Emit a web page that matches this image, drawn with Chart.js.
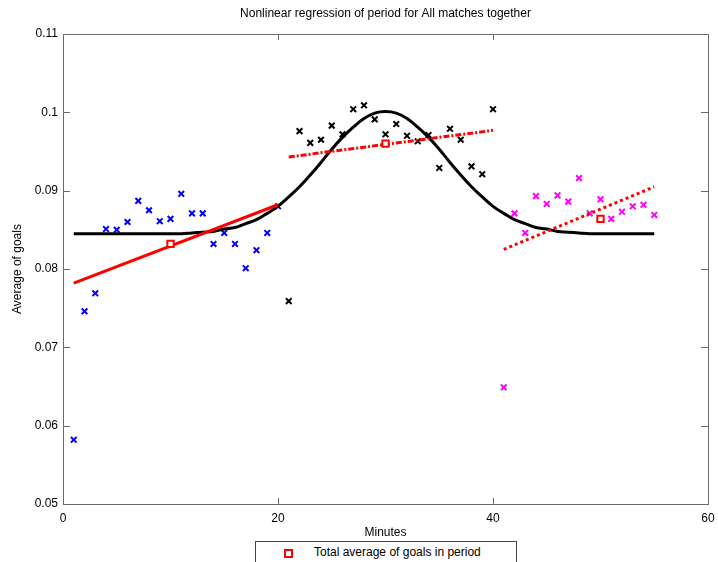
<!DOCTYPE html>
<html>
<head>
<meta charset="utf-8">
<script src="https://cdn.jsdelivr.net/npm/chart.js@4.4.0/dist/chart.umd.min.js"></script>
<style>
  body { margin: 0; background: #fff; font-family: "Liberation Sans", Arial, sans-serif; }
  #wrap { position: relative; width: 718px; height: 562px; overflow: hidden; }
  #legend {
    position: absolute; left: 255px; top: 541px; width: 260px; height: 40px;
    border: 1px solid #444; background: #fff; font-size: 12px; color: #000;
  }
  #legend .mk {
    position: absolute; left: 28px; top: 7px; width: 5px; height: 5px;
    border: 2px solid #ff0000; background: #fff;
  }
  #legend .txt { position: absolute; left: 58px; top: 3px; white-space: nowrap; }
</style>
</head>
<body>
<div id="wrap">
  <canvas id="chart" width="718" height="562"></canvas>
  <div id="legend"><span class="mk"></span><span class="txt">Total average of goals in period</span></div>
</div>
<script>
/** ================================
 *  Datos
 =================================*/
const minutesA = [1,2,3,4,5,6,7,8,9,10,11,12,13,14,15,16,17,18,19,20];
const goalsA = [0.0582,0.0746,0.0769,0.0851,0.0850,0.0860,0.0887,0.0875,0.0861,0.0864,
                0.0896,0.0871,0.0871,0.0832,0.0846,0.0832,0.0801,0.0824,0.0846,0.0880];

const minutesB = [21,22,23,24,25,26,27,28,29,30,31,32,33,34,35,36,37,38,39,40];
const goalsB = [0.0759,0.0976,0.0961,0.0965,0.0983,0.0972,0.1004,0.1009,0.0991,0.0972,
                0.0985,0.0970,0.0963,0.0971,0.0929,0.0979,0.0965,0.0931,0.0921,0.1004];

const minutesC = [41,42,43,44,45,46,47,48,49,50,51,52,53,54,55];
const goalsC = [0.0649,0.0871,0.0846,0.0893,0.0883,0.0894,0.0886,0.0916,0.0871,0.0889,
                0.0864,0.0873,0.0880,0.0882,0.0869];

const periodMinutes = [10, 30, 50];
const periodAvg = [0.0832, 0.0960, 0.0864];

const fitAMinutes = [1, 20];
const fitAGoals = [0.0782, 0.0882];
const fitBMinutes = [21, 40];
const fitBGoals = [0.0943, 0.0977];
const fitCMinutes = [41, 55];
const fitCGoals = [0.0825, 0.0905];

const curveMinutes = [1,2,3,4,5,6,7,8,9,10,11,12,13,14,15,16,17,18,19,20,
                      21,22,23,24,25,26,27,28,29,30,31,32,33,34,35,36,37,38,39,40,
                      41,42,43,44,45,46,47,48,49,50,51,52,53,54,55];
const curveGoals = [0.0845,0.0845,0.0845,0.0845,0.0845,0.0845,0.0845,0.0845,0.0845,0.0845,
                    0.0845,0.0846,0.0847,0.0848,0.0851,0.0853,0.0858,0.0863,0.0871,0.0880,
                    0.0892,0.0905,0.0920,0.0936,0.0953,0.0968,0.0981,0.0992,0.0999,0.1001,
                    0.0999,0.0992,0.0981,0.0968,0.0953,0.0936,0.0920,0.0905,0.0892,0.0880,
                    0.0871,0.0863,0.0858,0.0853,0.0851,0.0848,0.0847,0.0846,0.0845,0.0845,
                    0.0845,0.0845,0.0845,0.0845,0.0845];

const xTicks = [0, 20, 40, 60];
const xTickLabels = ["0", "20", "40", "60"];
const yTicks = [0.05, 0.06, 0.07, 0.08, 0.09, 0.10, 0.11];
const yTickLabels = ["0.05", "0.06", "0.07", "0.08", "0.09", "0.1", "0.11"];

const titleText = "Nonlinear regression of period for All matches together";

const pts = (xs, ys) => xs.map((x, i) => ({ x: x, y: ys[i] }));

/** ================================
 *  Marco y ticks hacia dentro
 =================================*/
const framePlugin = {
    id: "frame",
    afterDraw(chart) {
        const { ctx, chartArea: a, scales } = chart;
        ctx.save();
        ctx.strokeStyle = "#6a6a6a";
        ctx.lineWidth = 1;
        ctx.strokeRect(a.left + 0.5, a.top + 0.5, a.right - a.left, a.bottom - a.top);
        ctx.beginPath();
        xTicks.forEach(v => {
            const px = Math.round(scales.x.getPixelForValue(v)) + 0.5;
            ctx.moveTo(px, a.bottom); ctx.lineTo(px, a.bottom - 6);
            ctx.moveTo(px, a.top); ctx.lineTo(px, a.top + 6);
        });
        yTicks.forEach(v => {
            const py = Math.round(scales.y.getPixelForValue(v)) + 0.5;
            ctx.moveTo(a.left, py); ctx.lineTo(a.left + 7, py);
            ctx.moveTo(a.right, py); ctx.lineTo(a.right - 7, py);
        });
        ctx.stroke();

        ctx.fillStyle = "#000";
        ctx.font = "12px 'Liberation Sans', Arial, sans-serif";
        ctx.textAlign = "center";
        ctx.textBaseline = "middle";
        ctx.fillText(titleText, (a.left + a.right) / 2, 14);
        ctx.restore();
    }
};

const font12 = { family: "'Liberation Sans', Arial, sans-serif", size: 12 };

new Chart(document.getElementById("chart"), {
    type: "scatter",
    data: {
        datasets: [
            {
                data: pts(periodMinutes, periodAvg),
                pointStyle: "rect", pointRadius: 4.5, borderWidth: 2,
                borderColor: "#ff0000", backgroundColor: "#ffffff", order: 0
            },
            {
                data: pts(fitAMinutes, fitAGoals), showLine: true, pointRadius: 0,
                borderColor: "#ff0000", borderWidth: 3, order: 1
            },
            {
                data: pts(fitBMinutes, fitBGoals), showLine: true, pointRadius: 0,
                borderColor: "#ff0000", borderWidth: 3, borderDash: [6, 2, 2, 2], order: 1
            },
            {
                data: pts(fitCMinutes, fitCGoals), showLine: true, pointRadius: 0,
                borderColor: "#ff0000", borderWidth: 3, borderDash: [3, 3], order: 1
            },
            {
                data: pts(curveMinutes, curveGoals), showLine: true, pointRadius: 0,
                borderColor: "#000000", borderWidth: 3, tension: 0.4, order: 2
            },
            {
                data: pts(minutesA, goalsA), pointStyle: "crossRot", pointRadius: 4,
                borderWidth: 2, borderColor: "#0000ff", order: 3
            },
            {
                data: pts(minutesB, goalsB), pointStyle: "crossRot", pointRadius: 4,
                borderWidth: 2, borderColor: "#000000", order: 3
            },
            {
                data: pts(minutesC, goalsC), pointStyle: "crossRot", pointRadius: 4,
                borderWidth: 2, borderColor: "#ff00ff", order: 3
            }
        ]
    },
    options: {
        responsive: false,
        animation: false,
        devicePixelRatio: 1,
        layout: { padding: { top: 34, right: 10, left: 0, bottom: 0 } },
        plugins: { legend: { display: false }, tooltip: { enabled: false } },
        scales: {
            x: {
                type: "linear", min: 0, max: 60,
                afterFit: s => { s.height = 58; s.paddingLeft = 0; s.paddingRight = 0; },
                afterBuildTicks: s => { s.ticks = xTicks.map(v => ({ value: v })); },
                grid: { display: false, drawTicks: false },
                border: { display: false },
                ticks: {
                    padding: 7, color: "#000", font: font12, maxRotation: 0,
                    callback: (v) => xTickLabels[xTicks.indexOf(v)]
                },
                title: {
                    display: true, text: "Minutes", color: "#000", font: font12,
                    padding: { top: 0, bottom: 22 }
                }
            },
            y: {
                type: "linear", min: 0.05, max: 0.11,
                afterFit: s => { s.width = 63; s.paddingTop = 0; s.paddingBottom = 0; },
                afterBuildTicks: s => { s.ticks = yTicks.map(v => ({ value: v })); },
                grid: { display: false, drawTicks: false },
                border: { display: false },
                ticks: {
                    padding: 5, color: "#000", font: font12,
                    callback: (v) => {
                        const i = yTicks.findIndex(t => Math.abs(t - v) < 1e-9);
                        return yTickLabels[i];
                    }
                },
                title: {
                    display: true, text: "Average of goals", color: "#000", font: font12,
                    padding: { top: 10, bottom: 0 }
                }
            }
        }
    },
    plugins: [framePlugin]
});
</script>
</body>
</html>
